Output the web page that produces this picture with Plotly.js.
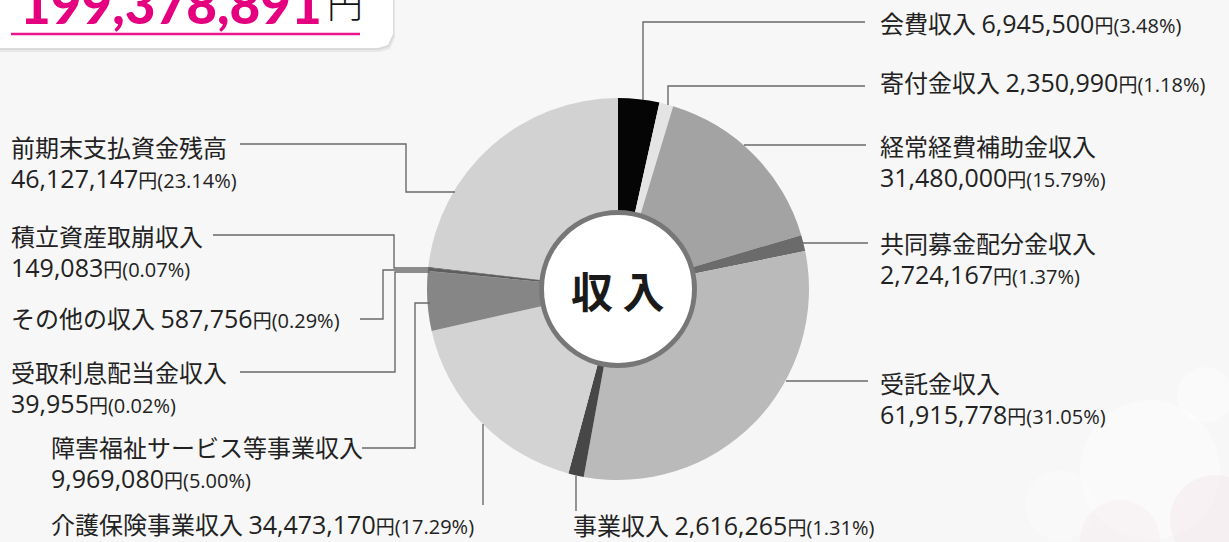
<!DOCTYPE html>
<html>
<head>
<meta charset="utf-8">
<script src="https://cdn.plot.ly/plotly-3.0.1.min.js"></script>
<style>
html,body{margin:0;padding:0;background:#f7f7f7;}
#chart{width:1229px;height:542px;}
</style>
</head>
<body>
<div id="chart"></div>
<script>
// ---------- DATA ----------
const categories = ['会費収入','寄付金収入','経常経費補助金収入','共同募金配分金収入','受託金収入','事業収入','介護保険事業収入','障害福祉サービス等事業収入','受取利息配当金収入','その他の収入','積立資産取崩収入','前期末支払資金残高'];
const amounts = [6945500,2350990,31480000,2724167,61915778,2616265,34473170,9969080,39955,587756,149083,46127147];
const percents = ['3.48','1.18','15.79','1.37','31.05','1.31','17.29','5.00','0.02','0.29','0.07','23.14'];
const totalAmount = 199378891;
const centerLabel = '収 入';

// ---------- STYLE / LAYOUT ----------
const W = 1229, H = 542;
const sliceColors = ['#050505','#e4e4e4','#a3a3a3','#6b6b6b','#bababa','#474747','#d3d3d3','#868686','#555555','#5e5e5e','#555555','#d2d2d2'];
const cx = 618, cy = 289, R = 191;
const px = x => x / W;
const py = y => 1 - y / H;

// label placement: [x, yLine1, yLine2 (null => single line)]
const labelPos = [
  [878, 22, null],
  [878, 82, null],
  [878, 146, 176],
  [878, 243, 273],
  [878, 383, 413],
  [571, 524, null],
  [49, 523, null],
  [49, 447, 477],
  [9, 372, 402],
  [9, 317, null],
  [9, 236, 266],
  [9, 147, 177]
];
// leader polylines (pixel coordinates)
const leaders = [
  [[643,100],[643,22],[865,22]],
  [[668,105],[668,86],[865,86]],
  [[744,145],[866,145]],
  [[803,243],[868,243]],
  [[786,381],[868,381]],
  [[576,476],[576,511]],
  [[483,424],[483,505]],
  [[362,448],[415,448],[415,303],[430,303]],
  [[240,372],[395,372],[395,272],[430,272]],
  [[360,319],[383,319],[383,270],[430,270]],
  [[213,235],[394,235],[394,268],[430,268]],
  [[240,144],[406,144],[406,192],[455,192]]
];

const fmt = n => n.toString().replace(/\B(?=(\d{3})+(?!\d))/g, ',');
const numSpan = (i) =>
  `<span style="font-family:'Open Sans';font-weight:400;font-size:25px">${fmt(amounts[i])}</span>` +
  `<span style="font-size:19px">円</span>` +
  `<span style="font-family:'Open Sans';font-weight:400;font-size:20px">(${percents[i]}%)</span>`;

const annotations = [];
categories.forEach((c, i) => {
  const [x, y1, y2] = labelPos[i];
  const text = (y2 === null) ? (c + ' ' + numSpan(i)) : (c + '<br>' + numSpan(i));
  const yc = (y2 === null) ? y1 : (y1 + y2) / 2;
  annotations.push({xref:'paper', yref:'paper', x:px(x), y:py(yc), xanchor:'left', yanchor:'middle',
    align:'left', showarrow:false, text});
});
// center label
annotations.push({xref:'paper', yref:'paper', x:px(cx), y:py(cy), xanchor:'center', yanchor:'middle',
  showarrow:false, text:centerLabel, font:{family:'Noto Sans CJK JP', size:42, color:'#1a1a1a', weight:'bold'}});
// total
annotations.push({xref:'paper', yref:'paper', x:px(18), y:py(37), xanchor:'left', yanchor:'bottom',
  showarrow:false, text:fmt(totalAmount), font:{family:'Lato', size:53, color:'#e4007f', weight:900}});
annotations.push({xref:'paper', yref:'paper', x:px(325), y:py(30), xanchor:'left', yanchor:'bottom',
  showarrow:false, text:'円', font:{family:'Noto Sans CJK JP', size:36, color:'#111', weight:300}});

const shapes = [];
// background bokeh
[[1150,470,70,'rgba(255,255,255,0.35)'],[1060,505,35,'rgba(255,255,255,0.3)'],[1205,395,28,'rgba(255,255,255,0.35)'],
 [1120,540,40,'rgba(245,228,234,0.25)'],[1215,520,45,'rgba(242,222,230,0.3)']].forEach(([x,y,r,col]) => {
  shapes.push({type:'circle', xref:'paper', yref:'paper', x0:px(x-r), x1:px(x+r), y0:py(y+r), y1:py(y-r),
    fillcolor:col, line:{width:0}, layer:'below'});
});
// leader lines
leaders.forEach(pts => {
  const d = pts.map((p, k) => (k ? 'L' : 'M') + px(p[0]).toFixed(5) + ',' + py(p[1]).toFixed(5)).join(' ');
  shapes.push({type:'path', xref:'paper', yref:'paper', path:d, line:{color:'#6a6a6a', width:1.4}, layer:'above'});
});
// center circle
const cr = 76.5;
shapes.push({type:'circle', xref:'paper', yref:'paper', x0:px(cx-cr), x1:px(cx+cr), y0:py(cy+cr), y1:py(cy-cr),
  fillcolor:'#ffffff', line:{color:'#777777', width:5}, layer:'above'});
// card shadow + card
const cardPath = (dx, dy) => {
  const pts = [[-10+dx,-10+dy],[393+dx,-10+dy],[393+dx,34+dy],[388+dx,45+dy],[378+dx,48+dy],[-10+dx,48+dy]];
  return pts.map((p,k)=> (k?'L':'M') + px(p[0]).toFixed(5) + ',' + py(p[1]).toFixed(5)).join(' ') + ' Z';
};
shapes.push({type:'path', xref:'paper', yref:'paper', path:cardPath(2,4), fillcolor:'rgba(0,0,0,0.06)', line:{width:0}, layer:'above'});
shapes.push({type:'path', xref:'paper', yref:'paper', path:cardPath(1,2), fillcolor:'rgba(0,0,0,0.06)', line:{width:0}, layer:'above'});
shapes.push({type:'path', xref:'paper', yref:'paper', path:cardPath(0,0), fillcolor:'#ffffff', line:{width:0}, layer:'above'});
// underline
shapes.push({type:'line', xref:'paper', yref:'paper', x0:px(11), x1:px(360), y0:py(34), y1:py(34), line:{color:'#e8168a', width:2.5}, layer:'above'});

const trace = {
  type:'pie', labels:categories, values:amounts, sort:false, direction:'clockwise', rotation:0,
  hole: 0.41, textinfo:'none', hoverinfo:'label+value+percent',
  marker:{colors:sliceColors, line:{width:0}},
  domain:{x:[px(cx-R), px(cx+R)], y:[py(cy+R), py(cy-R)]},
  showlegend:false
};

const layout = {
  width:W, height:H, margin:{l:0,r:0,t:0,b:0},
  paper_bgcolor:'#f7f7f7', plot_bgcolor:'#f7f7f7',
  font:{family:'Noto Sans CJK JP', size:24, color:'#222222'},
  showlegend:false, annotations, shapes
};
Plotly.newPlot('chart', [trace], layout, {displayModeBar:false, staticPlot:true});
</script>
</body>
</html>
